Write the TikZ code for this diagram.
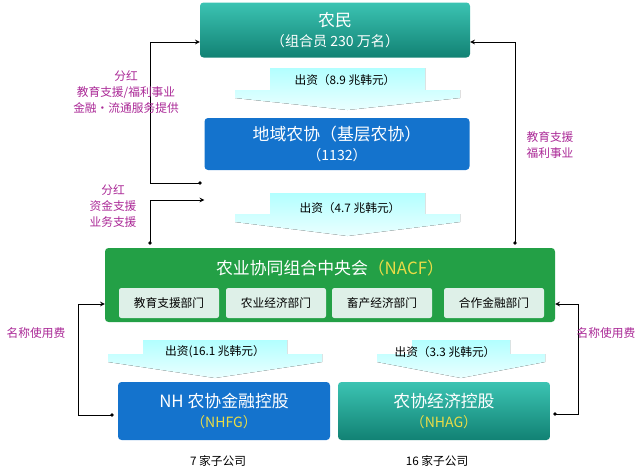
\documentclass[tikz,border=0pt]{standalone}
\usepackage{fontspec}
\setmainfont{Noto Sans CJK SC}
\usetikzlibrary{positioning}
\definecolor{tealbox}{RGB}{25,185,165}
\definecolor{bluebox}{RGB}{20,115,205}
\definecolor{greenbox}{RGB}{35,160,70}
\definecolor{sublabel}{RGB}{170,40,150}
\definecolor{goldtext}{RGB}{235,220,70}
\definecolor{subfill}{RGB}{222,240,232}
\tikzset{
  mainbox/.style={rounded corners=3pt, text=white, align=center, font=\Large, inner sep=0pt},
  deptbox/.style={fill=subfill, rounded corners=2pt, minimum width=100\unitx, minimum height=30\unitx, font=\normalsize, inner sep=0pt},
  flowlabel/.style={font=\normalsize},
  sidelabel/.style={text=sublabel, align=center, font=\normalsize, inner sep=0pt},
  link/.style={thick, -stealth},
  dot/.style={circle, fill=black, inner sep=1.2pt}
}
\newlength{\unitx}
\setlength{\unitx}{0.03cm}
\newcommand{\downflow}[5]{% x1 x2 ytop ybase tip
  \fill[top color=cyan!30, bottom color=cyan!8]
    (#1+35,#3) -- (#2-35,#3) -- (#2-35,#4-8) -- (#2,#4-8) -- (#2,#4)
    -- ({(#1+#2)/2},#5) -- (#1,#4) -- (#1,#4-8) -- (#1+35,#4-8) -- cycle;}
\begin{document}
\begin{tikzpicture}[x=0.03cm, y=-0.03cm]
  \useasboundingbox (0,0) rectangle (640,472);

  % Flow arrows
  \downflow{235}{460}{68}{98}{110}
  \downflow{235}{460}{193}{222}{236}
  \downflow{108}{322}{340}{362}{378}
  \downflow{377}{545}{340}{362}{378}

  % Main boxes
  \node[mainbox, top color=tealbox!85, bottom color=tealbox!70!black, minimum width=270\unitx, minimum height=55\unitx]
    (farmer) at (335,30) {农民\\[-1pt]{\large （组合员 230 万名）}};
  \node[mainbox, fill=bluebox, minimum width=265\unitx, minimum height=52\unitx]
    (local) at (337,144) {地域农协（基层农协）\\[-1pt]{\large （1132）}};
  \node[mainbox, fill=greenbox, minimum width=450\unitx, minimum height=74\unitx]
    (nacf) at (330,285) {};
  \node[text=white, font=\Large] (nacftitle) at (330,268) {农业协同组合中央会\textcolor{goldtext}{（NACF）}};
  \node[deptbox] (edu) at (169,303) {教育支援部门};
  \node[deptbox] (agri) at (276,303) {农业经济部门};
  \node[deptbox] (live) at (382,303) {畜产经济部门};
  \node[deptbox] (coop) at (494,303) {合作金融部门};
  \node[mainbox, fill=bluebox, minimum width=212\unitx, minimum height=58\unitx]
    (nhfg) at (224,411) {NH 农协金融控股\\[-1pt]{\large\textcolor{goldtext}{（NHFG）}}};
  \node[mainbox, top color=tealbox!85, bottom color=tealbox!70!black, minimum width=212\unitx, minimum height=58\unitx]
    (nhag) at (444,411) {农协经济控股\\[-1pt]{\large\textcolor{goldtext}{（NHAG）}}};

  % Flow labels
  \node[flowlabel] (inv1) at (345,80) {出资（8.9 兆韩元）};
  \node[flowlabel] (inv2) at (350,208) {出资（4.7 兆韩元）};
  \node[flowlabel] (inv3) at (215,352) {出资(16.1 兆韩元）};
  \node[flowlabel] (inv4) at (445,352) {出资（3.3 兆韩元）};
  \node[font=\normalsize] (sub1) at (218,461) {7 家子公司};
  \node[font=\normalsize] (sub2) at (437,461) {16 家子公司};

  % Side connectors
  \coordinate (l1) at (200,183);
  \coordinate (l2) at (150,243);
  \coordinate (r1) at (515,243);
  \coordinate (b1) at (112,415);
  \coordinate (b2) at (555,414);
  \node[dot] at (l1) {};
  \node[dot] at (l2) {};
  \node[dot] at (r1) {};
  \node[dot] at (b1) {};
  \node[dot] at (b2) {};
  \draw[link] (l1) -| (150,42) -- (farmer.west |- 0,42);
  \draw[link] (l2) |- (local.west |- 0,200);
  \draw[link] (r1) |- (farmer.east |- 0,42);
  \draw[link] (b1) -| (78,304) -- (nacf.west |- 0,304);
  \draw[link] (b2) -| (578,304) -- (nacf.east |- 0,304);

  % Side labels
  \node[sidelabel] (lab1) at (126,92) {分红\\[2pt]教育支援/福利事业\\[2pt]金融・流通服务提供};
  \node[sidelabel] (lab2) at (113,206) {分红\\[2pt]资金支援\\[2pt]业务支援};
  \node[sidelabel] (lab3) at (550,145) {教育支援\\[2pt]福利事业};
  \node[sidelabel] (lab4) at (36,333) {名称使用费};
  \node[sidelabel] (lab5) at (606,333) {名称使用费};
\end{tikzpicture}
\end{document}
